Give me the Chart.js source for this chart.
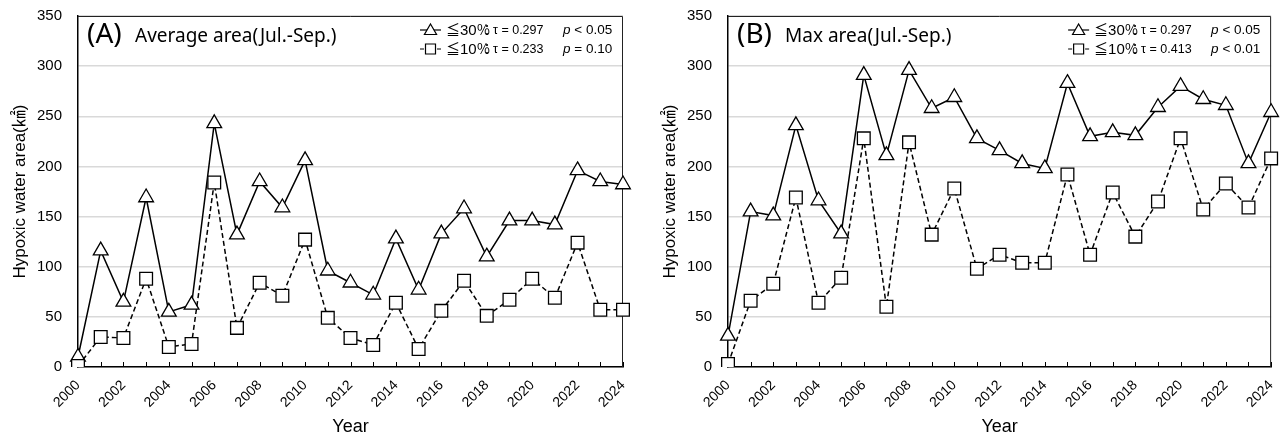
<!DOCTYPE html>
<html><head><meta charset="utf-8">
<script src="https://cdn.jsdelivr.net/npm/chart.js@4.4.0/dist/chart.umd.min.js"></script>
<style>
html,body{margin:0;padding:0;background:#fff;width:1283px;height:436px;overflow:hidden}
.box{position:absolute;top:0;height:436px}
#b1{left:0;width:640px}
#b2{left:650px;width:633px}
</style></head><body>
<div class="box" id="b1"><canvas id="c1"></canvas></div>
<div class="box" id="b2"><canvas id="c2"></canvas></div>
<script>
const years = [2000,2001,2002,2003,2004,2005,2006,2007,2008,2009,2010,2011,2012,2013,2014,2015,2016,2017,2018,2019,2020,2021,2022,2023,2024];
const avg30 = [10,116,65,169,55,62,243,132,185,159,206,96,84,72,128,77,133,158,110,146,146,142,196,185,182];
const avg10 = [1,30,29,88,20,23,184,39,84,71,127,49,29,22,64,18,56,86,51,67,88,69,124,57,57];
const max30 = [31,155,151,241,166,133,291,211,296,258,269,228,216,203,198,283,230,234,231,259,280,267,261,203,254];
const max10 = [3,66,83,169,64,89,228,60,224,132,178,98,112,104,104,192,112,174,130,165,228,157,183,159,208];
const yTicks = [0,50,100,150,200,250,300,350];
const xLabelYears = [2000,2002,2004,2006,2008,2010,2012,2014,2016,2018,2020,2022,2024];

const panelA = {tag:'(A)', title:'Average area(Jul.-Sep.)', s30:'≦30%', t30:'τ = 0.297', p30:' < 0.05', s10:'≦10%', t10:'τ = 0.233', p10:' = 0.10'};
const panelB = {tag:'(B)', title:'Max area(Jul.-Sep.)', s30:'≦30%', t30:'τ = 0.297', p30:' < 0.05', s10:'≦10%', t10:'τ = 0.413', p10:' < 0.01'};

const FONT = '"Liberation Sans", Arial, "Noto Sans CJK JP", sans-serif';
const CJK = '"Noto Sans CJK JP", sans-serif';

function drawTri(ctx, x, y, r){
  ctx.beginPath();
  ctx.moveTo(x, y - r);
  ctx.lineTo(x + r*0.866, y + r/2);
  ctx.lineTo(x - r*0.866, y + r/2);
  ctx.closePath();
  ctx.fillStyle='#fff'; ctx.fill(); ctx.stroke();
}
function drawSq(ctx, x, y, s){
  ctx.beginPath(); ctx.rect(x - s/2, y - s/2, s, s);
  ctx.fillStyle='#fff'; ctx.fill(); ctx.stroke();
}

function makePlugin(panel){
  return {
    id:'deco',
    beforeDatasetsDraw(chart){
      const {ctx, chartArea:a} = chart;
      ctx.save();
      ctx.strokeStyle='#222'; ctx.lineWidth=1;
      ctx.beginPath();
      ctx.moveTo(a.left, a.top+0.5); ctx.lineTo(a.right-0.5, a.top+0.5); ctx.lineTo(a.right-0.5, a.bottom);
      ctx.stroke();
      const xs = chart.scales.x;
      ctx.strokeStyle='#000'; ctx.lineWidth=1;
      for (let i=0;i<years.length;i++){
        const px = Math.round(xs.getPixelForValue(i))+0.5;
        ctx.beginPath(); ctx.moveTo(px, a.bottom); ctx.lineTo(px, a.bottom-5); ctx.stroke();
      }
      ctx.restore();
    },
    afterDraw(chart){
      const {ctx, chartArea:a} = chart;
      ctx.save();
      ctx.fillStyle='#000';
      ctx.textBaseline='middle';
      ctx.font='28px "Noto Sans", sans-serif';
      ctx.fillText(panel.tag, a.left+9, 35);
      ctx.font='19px "Noto Sans", sans-serif';
      ctx.fillText(panel.title, a.left+57, 37);
      const x0 = a.right - 203;
      const rows = [
        {y:30, s:panel.s30, t:panel.t30, p:panel.p30, dash:false},
        {y:49, s:panel.s10, t:panel.t10, p:panel.p10, dash:true}
      ];
      rows.forEach(r=>{
        ctx.strokeStyle='#000'; ctx.lineWidth=1.2;
        ctx.beginPath();
        if (r.dash){
          ctx.moveTo(x0, r.y); ctx.lineTo(x0+4, r.y);
          ctx.moveTo(x0+17, r.y); ctx.lineTo(x0+21, r.y);
        } else {
          ctx.moveTo(x0, r.y); ctx.lineTo(x0+21, r.y);
        }
        ctx.stroke();
        if (r.dash) drawSq(ctx, x0+10.5, r.y, 10); else drawTri(ctx, x0+10.5, r.y+1, 7);
        ctx.fillStyle='#000';
        ctx.font='14px ' + CJK;
        ctx.fillText(r.s.charAt(0), x0+26, r.y);
        ctx.font='15px ' + FONT;
        ctx.fillText(r.s.slice(1,3), x0+40, r.y+1);
        ctx.font='14px ' + CJK;
        ctx.fillText('%', x0+57, r.y);
        ctx.fillText('：', x0+60, r.y);
        ctx.font='12.5px ' + FONT;
        ctx.fillText(r.t, x0+73, r.y+1);
        ctx.font='italic 13.5px ' + FONT;
        ctx.fillText('p', x0+143, r.y);
        const pw = ctx.measureText('p').width;
        ctx.font='13.5px ' + FONT;
        ctx.fillText(r.p, x0+143+pw, r.y);
      });
      ctx.restore();
    }
  };
}

function makeChart(id, d30, d10, panel, padRight){
  return new Chart(document.getElementById(id), {
    type:'line',
    data:{
      labels: years,
      datasets:[
        {label:'≦30%', data:d30, order:2, borderColor:'#000', borderWidth:1.5, tension:0,
         pointStyle:'triangle', pointRadius:8.5, pointBackgroundColor:'#fff', pointBorderColor:'#000', pointBorderWidth:1.3},
        {label:'≦10%', data:d10, order:1, borderColor:'#000', borderWidth:1.5, borderDash:[5,3], tension:0,
         pointStyle:'rect', pointRadius:9, pointBackgroundColor:'#fff', pointBorderColor:'#000', pointBorderWidth:1.3}
      ]
    },
    options:{
      responsive:true, maintainAspectRatio:false, animation:false, devicePixelRatio:1,
      layout:{padding:{top:16, right:padRight, left:0, bottom:0}},
      plugins:{legend:{display:false}, tooltip:{enabled:false}},
      scales:{
        x:{
          type:'category', offset:false,
          grid:{drawOnChartArea:false, drawTicks:true, tickLength:10, tickColor:'rgba(0,0,0,0)'},
          border:{color:'#000', width:1.5},
          ticks:{autoSkip:false, maxRotation:45, minRotation:45, padding:0, color:'#000',
                 font:{family:FONT, size:14},
                 callback:(v,i)=> xLabelYears.includes(years[i]) ? String(years[i]) : ''},
          title:{display:true, text:'Year', color:'#000', font:{family:FONT, size:18, lineHeight:1.0}, padding:0},
          afterFit:s=>{s.height = 69;}
        },
        y:{
          min:0, max:350,
          afterBuildTicks:s=>{s.ticks = yTicks.map(v=>({value:v}));},
          grid:{color:'#d9d9d9', lineWidth:1.5, drawTicks:true, tickLength:16, tickColor:'rgba(0,0,0,0)'},
          border:{color:'#000', width:1.5},
          ticks:{padding:0, color:'#000', font:{family:FONT, size:15}},
          title:{display:true, text:'Hypoxic water area(㎢)', color:'#000', font:{family:FONT, size:17}, padding:{top:10, bottom:0}},
          afterFit:s=>{s.width = 78;}
        }
      }
    },
    plugins:[makePlugin(panel)]
  });
}
makeChart('c1', avg30, avg10, panelA, 17);
makeChart('c2', max30, max10, panelB, 11);
</script>
</body></html>
